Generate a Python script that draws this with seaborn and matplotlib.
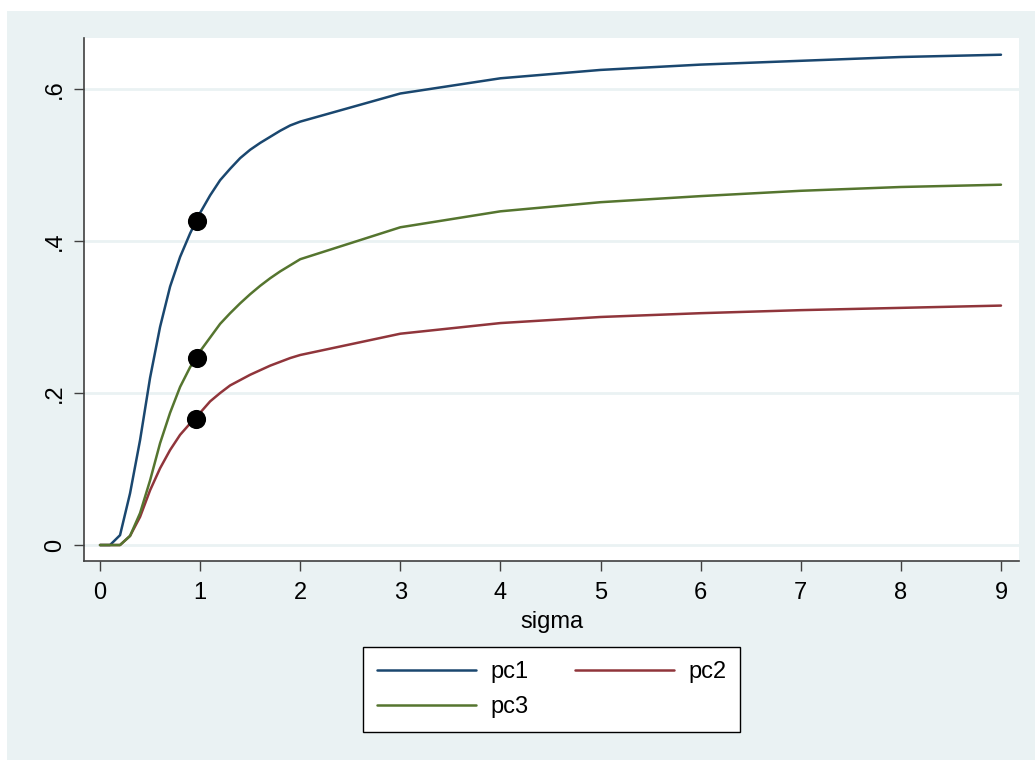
import numpy as np
import pandas as pd
import matplotlib
matplotlib.use('Agg')
import matplotlib.pyplot as plt
import seaborn as sns
from matplotlib.lines import Line2D
from matplotlib.patches import Rectangle

# values
sigma = [0, .1, .2, .3, .4, .5, .6, .7, .8, .9, 1, 1.1, 1.2, 1.3, 1.4, 1.5, 1.6, 1.7, 1.8, 1.9, 2,
         3, 4, 5, 6, 7, 8, 9]
pc1 = [0, 0, .013, .068, .138, .22, .287, .34, .379, .41, .437, .46, .48, .495, .509, .52, .529,
       .537, .545, .552, .557, .594, .614, .625, .632, .637, .642, .645]
pc2 = [0, 0, 0, .012, .037, .072, .101, .125, .145, .16, .174, .189, .2, .21, .217, .224, .23,
       .236, .241, .246, .25, .278, .292, .3, .305, .309, .312, .315]
pc3 = [0, 0, 0, .012, .042, .085, .134, .174, .208, .234, .255, .273, .291, .305, .318, .33, .341,
       .351, .36, .368, .376, .418, .439, .451, .459, .466, .471, .474]

# highlighted points near sigma = 1
dot_x = [0.97, 0.97, 0.96]
dot_y = [0.426, 0.246, 0.166]

series = ['pc1', 'pc2', 'pc3']
colors = {'pc1': '#1a476f', 'pc2': '#90353b', 'pc3': '#55752f'}
bg = '#eaf2f3'

df = pd.DataFrame({'sigma': sigma, 'pc1': pc1, 'pc2': pc2, 'pc3': pc3})
long = df.melt(id_vars='sigma', value_vars=series, var_name='series', value_name='value')

sns.set_theme(style='white')
plt.rcParams['font.family'] = ['Liberation Sans', 'DejaVu Sans']

fig = plt.figure(figsize=(10.35, 7.6), dpi=100, facecolor='white')
fig.patches.append(Rectangle((7 / 1035, 0), 1, (760 - 11) / 760, transform=fig.transFigure,
                             facecolor=bg, edgecolor='none', zorder=-5))
ax = fig.add_axes([84 / 1035, (760 - 561) / 760, (1019 - 84) / 1035, (561 - 38) / 760])
ax.set_facecolor('white')

for v in [0, .2, .4, .6]:
    ax.axhline(v, color=bg, lw=2, zorder=0)

sns.lineplot(data=long, x='sigma', y='value', hue='series', palette=colors,
             linewidth=1.8, ax=ax, legend=False, zorder=2)
sns.scatterplot(x=dot_x, y=dot_y, color='black', s=190, ax=ax, zorder=3, linewidth=0)

ax.set_xlim(-0.16, 9.18)
ax.set_ylim(-0.021, 0.667)
ax.set_xticks(range(10))
ax.set_yticks([0, .2, .4, .6])
ax.set_yticklabels(['0', '.2', '.4', '.6'], rotation=90, va='center')
ax.tick_params(axis='both', labelsize=17, length=7, width=1, color='#404040', direction='out',
               left=True, bottom=True, labelcolor='black')
ax.tick_params(axis='x', pad=8)
ax.tick_params(axis='y', pad=6)
ax.set_xlabel('sigma', fontsize=17, labelpad=5, color='black')
ax.set_ylabel('')
for s in ['top', 'right']:
    ax.spines[s].set_visible(False)
for s in ['left', 'bottom']:
    ax.spines[s].set_color('#404040')
    ax.spines[s].set_linewidth(1.2)

# column-major fill: pc1, pc2 on the first row, pc3 below
order = ['pc1', 'pc3', 'pc2']
handles = [Line2D([], [], color=colors[s], lw=1.8) for s in order]
leg = fig.legend(handles, order, loc='upper left', ncol=2,
                 bbox_to_anchor=(363 / 1035, (760 - 647) / 760), fontsize=17,
                 frameon=True, fancybox=False, framealpha=1, facecolor='white',
                 handlelength=4.2, handletextpad=0.6, columnspacing=1.95,
                 labelspacing=0.55, borderpad=0.6, borderaxespad=0)
leg.get_frame().set_edgecolor('black')
leg.get_frame().set_linewidth(1)
for t in leg.get_texts():
    t.set_color('black')

fig.savefig('out.png', dpi=100, facecolor='white')
